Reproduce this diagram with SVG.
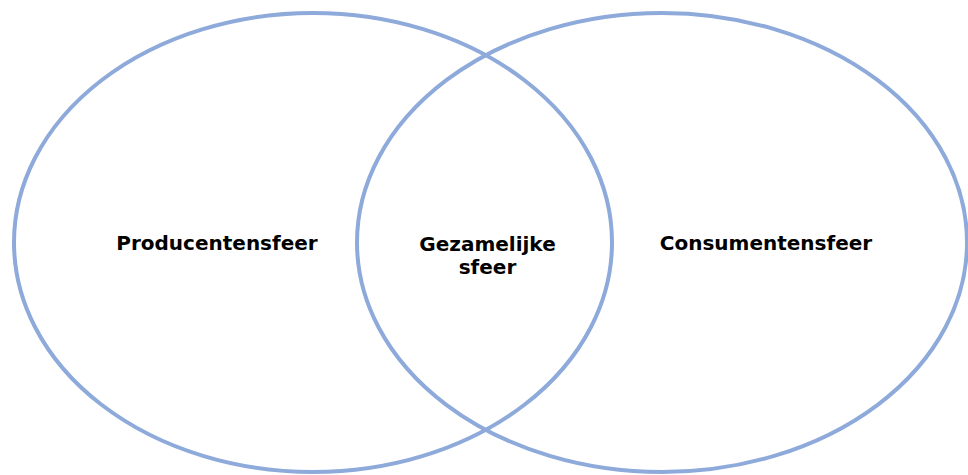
<svg xmlns="http://www.w3.org/2000/svg" width="968" height="475" viewBox="0 0 968 475">
  <style>
    .set { fill: none; stroke: #8EAADB; stroke-width: 4; }
    .lbl { font-family: "DejaVu Sans", Verdana, sans-serif; font-weight: bold; font-size: 20px; fill: #000; text-anchor: middle; }
  </style>
  <rect width="968" height="475" fill="#fff"/>
  <g id="producentensfeer">
    <ellipse class="set" cx="313" cy="242.5" rx="299" ry="229.5"/>
    <text class="lbl" x="217" y="250">Producentensfeer</text>
  </g>
  <g id="consumentensfeer">
    <ellipse class="set" cx="662" cy="242.5" rx="305" ry="229.5"/>
    <text class="lbl" x="766" y="250">Consumentensfeer</text>
  </g>
  <g id="gezamelijke-sfeer">
    <text class="lbl" x="487.5" y="251">Gezamelijke</text>
    <text class="lbl" x="487.5" y="274">sfeer</text>
  </g>
  <g id="connectors"/>
</svg>
